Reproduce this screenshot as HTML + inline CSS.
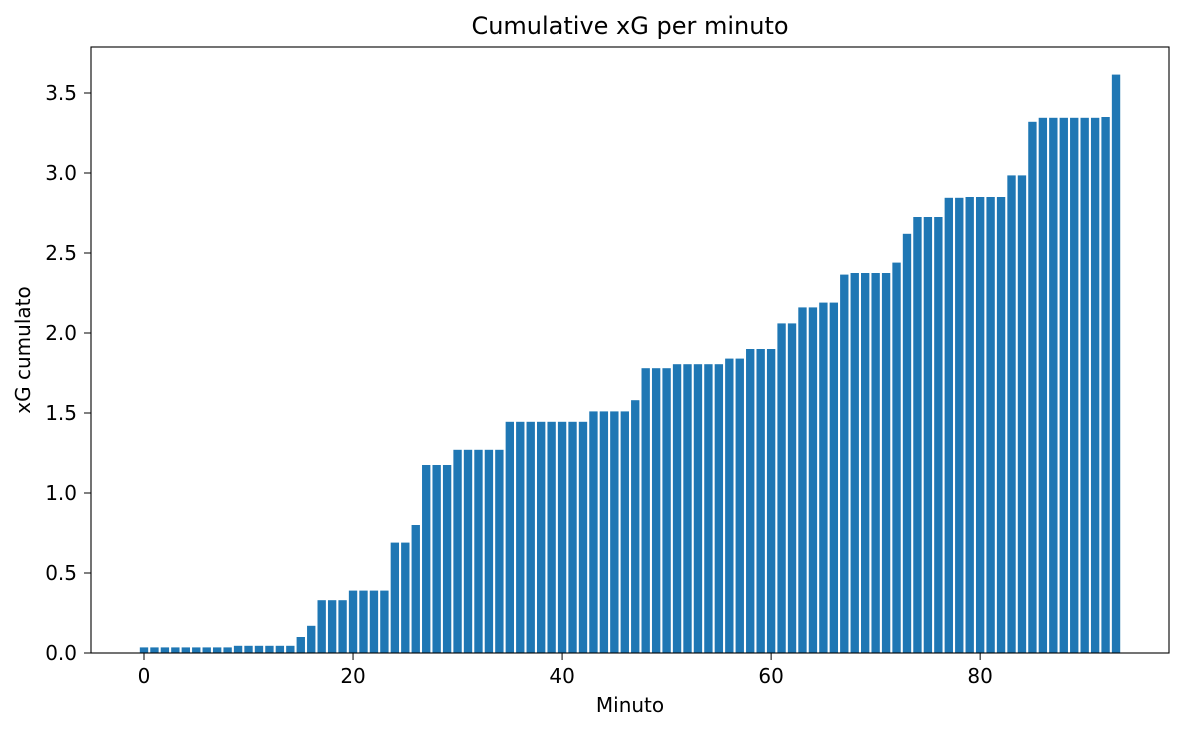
<!DOCTYPE html>
<html><head><meta charset="utf-8"><style>
body{margin:0;background:#fff;font-family:"DejaVu Sans",sans-serif}
svg text{font-family:"DejaVu Sans",sans-serif;fill:#000}
</style></head><body>
<svg width="1184" height="731" viewBox="0 0 1184 731">
<g id="bars"></g>
<rect x="91" y="47" width="1078" height="606" fill="none" stroke="#000" stroke-width="1.1"/>
<g id="axes"></g>
<text x="630" y="34" font-size="24" text-anchor="middle">Cumulative xG per minuto</text>
<text x="630" y="712" font-size="20" text-anchor="middle">Minuto</text>
<text x="30" y="350" font-size="20" text-anchor="middle" transform="rotate(-90 30 350)">xG cumulato</text>
</svg>
<script>
const minutes=[...Array(94).keys()];
const xgValues=[0.035,0.035,0.035,0.035,0.035,0.035,0.035,0.035,0.035,0.045,0.045,0.045,0.045,0.045,0.045,0.1,0.17,0.33,0.33,0.33,0.39,0.39,0.39,0.39,0.69,0.69,0.8,1.175,1.175,1.175,1.27,1.27,1.27,1.27,1.27,1.445,1.445,1.445,1.445,1.445,1.445,1.445,1.445,1.51,1.51,1.51,1.51,1.58,1.78,1.78,1.78,1.805,1.805,1.805,1.805,1.805,1.84,1.84,1.9,1.9,1.9,2.06,2.06,2.16,2.16,2.19,2.19,2.365,2.375,2.375,2.375,2.375,2.44,2.62,2.725,2.725,2.725,2.845,2.845,2.85,2.85,2.85,2.85,2.985,2.985,3.32,3.345,3.345,3.345,3.345,3.345,3.345,3.35,3.615];
const xTicks=[0,20,40,60,80];
const yTicks=[0,0.5,1.0,1.5,2.0,2.5,3.0,3.5];
const NS="http://www.w3.org/2000/svg";
const xs=v=>144+v*10.452;
const ys=v=>653-v*160;
const bars=document.getElementById('bars'),axes=document.getElementById('axes');
minutes.forEach((m,i)=>{
 const r=document.createElementNS(NS,'rect');
 
 
 r.setAttribute('x',xs(m-0.4));r.setAttribute('width',10.452*0.8);
 r.setAttribute('y',ys(xgValues[i]));r.setAttribute('height',ys(0)-ys(xgValues[i]));
 r.setAttribute('fill','#1f77b4');bars.appendChild(r);
});
xTicks.forEach(t=>{
 const l=document.createElementNS(NS,'line');
 
 
 l.setAttribute('x1',xs(t));l.setAttribute('x2',xs(t));l.setAttribute('y1',653);l.setAttribute('y2',660);l.setAttribute('stroke','#000');axes.appendChild(l);
 const tx=document.createElementNS(NS,'text');
 
 
 tx.setAttribute('x',xs(t));tx.setAttribute('y',683);tx.setAttribute('font-size','20');tx.setAttribute('text-anchor','middle');tx.textContent=t;axes.appendChild(tx);
});
yTicks.forEach(t=>{
 const l=document.createElementNS(NS,'line');
 
 
 l.setAttribute('x1',84);l.setAttribute('x2',91);l.setAttribute('y1',ys(t));l.setAttribute('y2',ys(t));l.setAttribute('stroke','#000');axes.appendChild(l);
 const tx=document.createElementNS(NS,'text');
 
 
 tx.setAttribute('x',77);tx.setAttribute('y',ys(t)+7);tx.setAttribute('font-size','20');tx.setAttribute('text-anchor','end');tx.textContent=t.toFixed(1);axes.appendChild(tx);
});
</script>
</body></html>
